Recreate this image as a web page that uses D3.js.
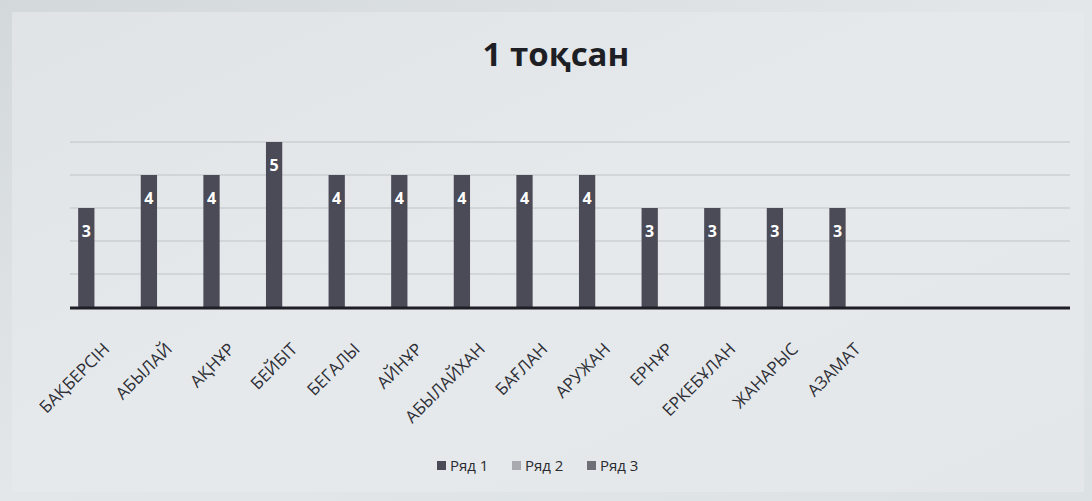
<!DOCTYPE html>
<html><head><meta charset="utf-8">
<script src="https://cdn.jsdelivr.net/npm/d3@7"></script>
<style>
html,body{margin:0;padding:0;background:#dfe3e6;}
svg{display:block;}
</style></head>
<body><svg id="chart" width="1092" height="501"></svg>
<script>
const title = "1 тоқсан";
const categories = ["БАҚБЕРСІН","АБЫЛАЙ","АҚНҰР","БЕЙБІТ","БЕГАЛЫ","АЙНҰР","АБЫЛАЙХАН","БАҒЛАН","АРУЖАН","ЕРНҰР","ЕРКЕБҰЛАН","ЖАНАРЫС","АЗАМАТ"];
const series1 = [3,4,4,5,4,4,4,4,4,3,3,3,3];
const seriesNames = ["Ряд 1","Ряд 2","Ряд 3"];
const seriesColors = ["#4b4a57","#a9aab0","#6f6f78"];
const yTicks = [1,2,3,4,5];

const svg = d3.select("#chart");
const W = 1092, H = 501;

const defs = svg.append("defs");
const grad = defs.append("linearGradient").attr("id","bg").attr("x1","0").attr("x2","1").attr("y1","0").attr("y2","1");
grad.append("stop").attr("offset","0").attr("stop-color","#d3d8db");
grad.append("stop").attr("offset","0.5").attr("stop-color","#e3e7ea");
grad.append("stop").attr("offset","1").attr("stop-color","#dce1e4");
svg.append("rect").attr("width",W).attr("height",H).attr("fill","url(#bg)");
svg.append("rect").attr("x",12).attr("y",12).attr("width",1072).attr("height",480)
  .attr("fill","#e8ebed").attr("opacity",0.6);

const plotLeft = 55, bandW = 62.6;
const x = d3.scaleBand().domain(categories)
  .range([plotLeft, plotLeft + bandW*categories.length]).paddingInner(0.74).paddingOuter(0.37);
const y = d3.scaleLinear().domain([0,5]).range([307,142]);

// gridlines
svg.append("g").selectAll("line").data(yTicks).join("line")
  .attr("x1",70).attr("x2",1070)
  .attr("y1",d=>y(d)).attr("y2",d=>y(d))
  .attr("stroke","#c0c4c8").attr("stroke-width",1.2);

// bars
svg.append("g").selectAll("rect").data(series1).join("rect")
  .attr("x",(d,i)=>x(categories[i]))
  .attr("width",x.bandwidth())
  .attr("y",d=>y(d))
  .attr("height",d=>y(0)-y(d))
  .attr("fill",seriesColors[0]);

// value labels
svg.append("g").selectAll("text").data(series1).join("text")
  .attr("x",(d,i)=>x(categories[i])+x.bandwidth()/2)
  .attr("y",d=>y(d)+29)
  .attr("text-anchor","middle")
  .attr("font-family","'Open Sans', 'Liberation Sans', sans-serif")
  .attr("font-weight","bold").attr("font-size",16)
  .attr("fill","#ffffff")
  .text(d=>d);

// axis with rotated category labels
const xAxis = d3.axisBottom(x).tickSize(0).tickPadding(0);
const ax = svg.append("g").attr("transform",`translate(0,${y(0)})`).call(xAxis);
ax.select(".domain").remove();
svg.append("line").attr("x1",70).attr("x2",1070).attr("y1",y(0)+1).attr("y2",y(0)+1)
  .attr("stroke","#1e1f26").attr("stroke-width",3);
ax.selectAll("text")
  .attr("font-family","'Open Sans', 'Liberation Sans', sans-serif")
  .attr("font-size",17).attr("fill","#2e2f36")
  .attr("text-anchor","end")
  .attr("dy","0.35em")
  .attr("transform","translate(20,39) rotate(-45)");

// title
svg.append("text").attr("x",556).attr("y",66).attr("text-anchor","middle")
  .attr("font-family","'Open Sans', 'Liberation Sans', sans-serif")
  .attr("font-weight","bold").attr("font-size",33).attr("fill","#1e1f24")
  .text(title);

// legend
const legX = [437, 512, 587];
const lg = svg.append("g").selectAll("g").data(seriesNames).join("g")
  .attr("transform",(d,i)=>`translate(${legX[i]},466)`);
lg.append("rect").attr("x",0).attr("y",-5).attr("width",9).attr("height",9)
  .attr("fill",(d,i)=>seriesColors[i]);
lg.append("text").attr("x",13).attr("y",5)
  .attr("font-family","'Open Sans', 'Liberation Sans', sans-serif")
  .attr("font-size",15).attr("fill","#2a2b30").text(d=>d);
</script></body></html>
